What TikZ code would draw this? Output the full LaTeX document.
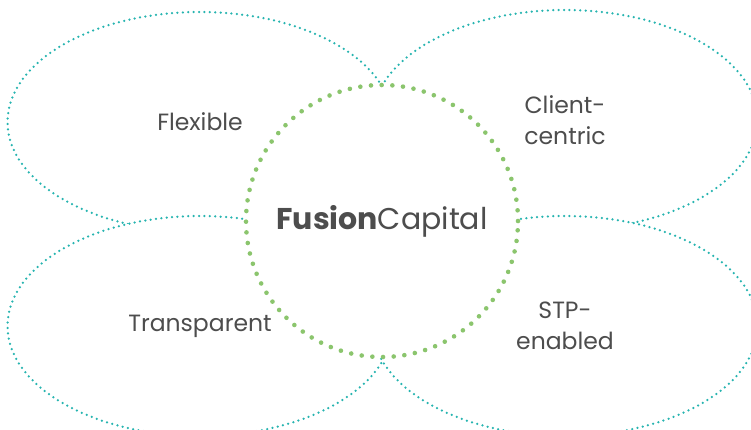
\documentclass[tikz,border=0pt]{standalone}
\usepackage{fontspec}
\setmainfont{Poppins}
\usetikzlibrary{shapes.geometric,positioning}
\definecolor{ringteal}{RGB}{38,180,176}
\definecolor{coregreen}{RGB}{139,197,109}
\definecolor{labelgray}{RGB}{77,77,77}

\begin{document}
\begin{tikzpicture}[
  x=1pt, y=-1pt,
  petal/.style={ellipse, draw=ringteal, fill=white, line width=2.5pt,
                dash pattern=on 0pt off 5.4pt, line cap=round,
                minimum width=385pt, minimum height=220pt, inner sep=0pt,
                align=center, text=labelgray,
                font=\fontsize{23.5}{31}\selectfont},
  core/.style={circle, draw=coregreen, fill=white, line width=4.6pt,
               dash pattern=on 0pt off 10.7pt, line cap=round,
               minimum size=272pt, inner sep=0pt, text=labelgray,
               font=\fontsize{30}{36}\selectfont}
]
\useasboundingbox (0,0) rectangle (751,429);
\clip (0,0) rectangle (751,429);

% Top petals
\node[petal] (flexible) at (200,122) {Flexible};
\node[petal] (client) at (565,120) {Client-\\centric};

% Bottom petals
\node[petal] (transparent) at (200,326) {Transparent};
\node[petal] (stp) at (565,326) {STP-\\enabled};

% Centre
\node[core] (fusion) at (382,221) {\textbf{Fusion}Capital};

\end{tikzpicture}
\end{document}
